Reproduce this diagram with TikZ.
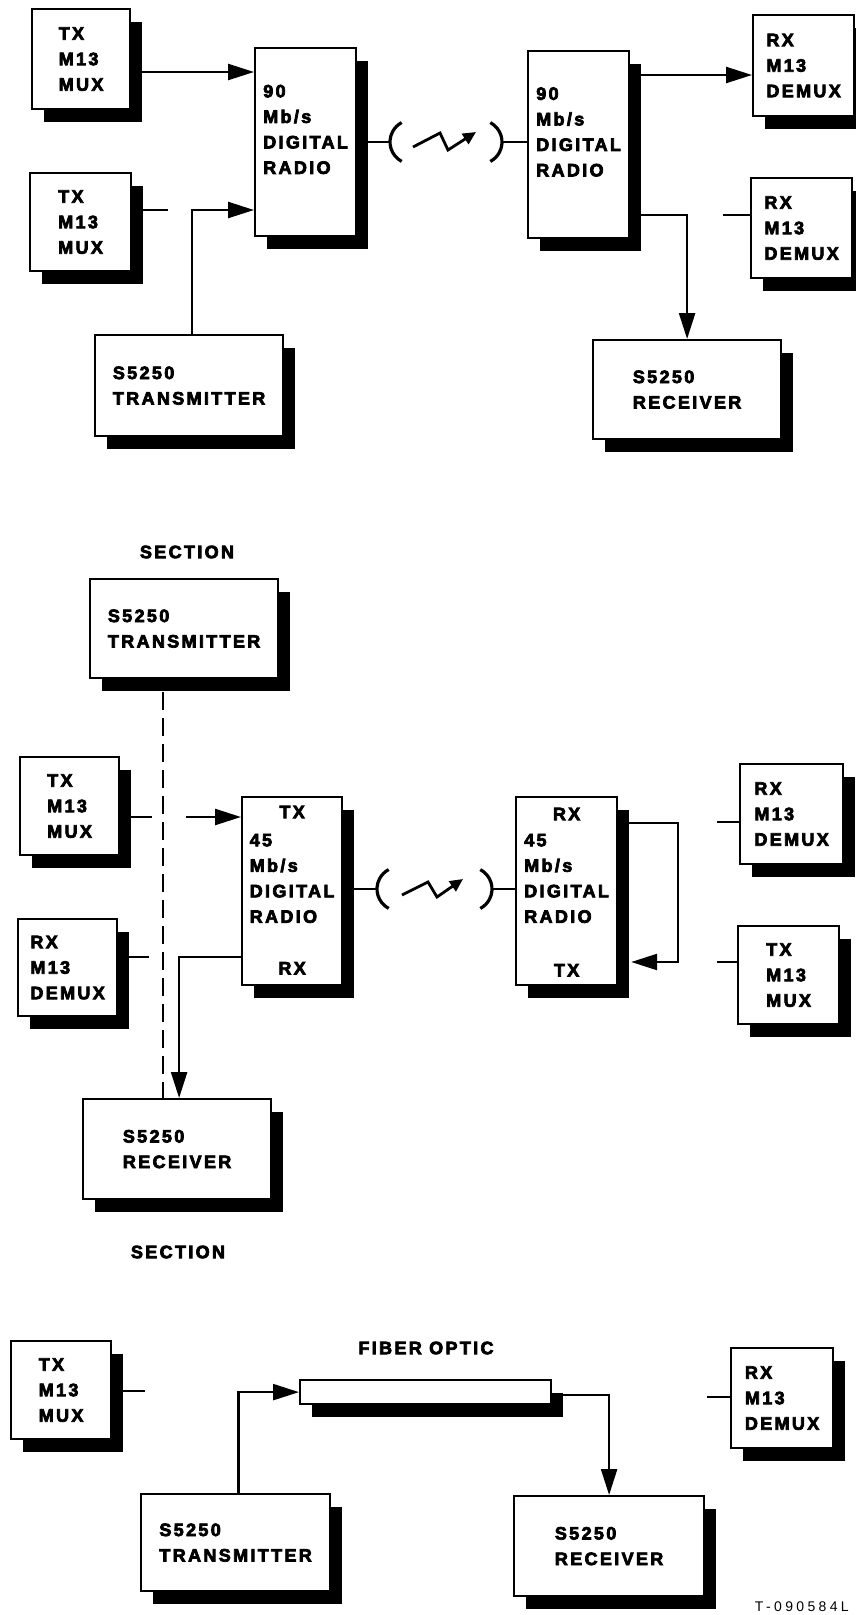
\documentclass[tikz,border=0pt]{standalone}
\usepackage{fontspec}
\setmainfont{Liberation Sans}
\newfontfamily\labfont{Liberation Sans}[UprightFont=* Bold, LetterSpace=13, FakeBold=4]
\newfontfamily\codefont{Liberation Sans}[LetterSpace=24]
\usetikzlibrary{arrows.meta,shadows,calc}
\begin{document}
\begin{tikzpicture}[x=1pt,y=-1pt,
  lw/.style={line width=2.4pt},
  txt/.style={font=\labfont\fontsize{18pt}{25.5pt}\selectfont, inner sep=0pt},
  box/.style={draw, line width=2.2pt, fill=white, txt, align=left, anchor=north west,
     drop shadow={shadow xshift=12pt, shadow yshift=-13pt, fill=black, opacity=1}},
  sz/.style 2 args={minimum width=#1pt, minimum height=#2pt},
  conn/.style={lw},
  arr/.style={lw, -{Triangle[length=26pt,width=16pt]}},
  ant/.style={line width=3.2pt},
  bolt/.style={line width=2.8pt, -{Triangle[length=13pt,width=12pt]}},
  dashedconn/.style={lw, dash pattern=on 18pt off 8pt},
  code/.style={font=\codefont\fontsize{14pt}{16pt}\selectfont, inner sep=0pt},
]
\useasboundingbox (0,0) rectangle (855,1615);

% ---------------- Section 1 ----------------
\node[box, sz={98}{100}] (m1) at (31,8) {TX\\M13\\MUX};
\node[box, sz={101}{98}] (m2) at (29,172) {TX\\M13\\MUX};
\node[box, sz={101}{188}] (r1) at (254,47) {90\\Mb/s\\DIGITAL\\RADIO\\\mbox{}};
\node[box, sz={188}{101}] (t1) at (94,334) {S5250\\TRANSMITTER};
\node[box, sz={101}{187}] (r2) at (527,50) {90\\Mb/s\\DIGITAL\\RADIO\\\mbox{}};
\node[box, sz={101}{101}] (d1) at (752,14) {RX\\M13\\DEMUX};
\node[box, sz={101}{100}] (d2) at (750,177) {RX\\M13\\DEMUX};
\node[box, sz={188}{99}] (rc1) at (592,339) {S5250\\RECEIVER};

\path ($(r1.north west)+(0,25)$) coordinate (r1a);
\draw[arr] (m1.east |- r1a) -- (r1a);
\draw[conn] ($(m2.north east)+(0,38)$) -- ++(36,0) coordinate (m2s);
\path ($(r1.north west)+(0,163)$) coordinate (r1b);
\draw[arr] ([xshift=3pt]t1.north) |- (r1b);

\coordinate (a1) at (390,142);
\draw[conn] (r1.east |- a1) -- (a1);
\draw[ant] ($(412,142)+(118:22)$) arc[start angle=118, end angle=242, radius=22];
\draw[bolt] (413,147) -- (440,133) -- (448,150) -- (476,132);
\draw[ant] ($(480,142)+(-62:22)$) arc[start angle=-62, end angle=62, radius=22];
\coordinate (a2) at (502,142);
\draw[conn] (a2) -- (r2.west |- a2);

\path ($(r2.north east)+(0,25)$) coordinate (r2a);
\draw[arr] (r2a) -- (d1.west |- r2a);
\path ($(r2.north east)+(0,165)$) coordinate (r2b);
\draw[arr] (r2b) -| (rc1.north);
\draw[conn] ($(d2.north west)+(0,38)$) -- ++(-27,0) coordinate (d2s);

% ---------------- Section 2 ----------------
\node[txt] (sec1) at (187,552) {SECTION};
\node[box, sz={188}{99}] (t2) at (89,578) {S5250\\TRANSMITTER};
\node[box, sz={99}{98}] (m3) at (19,756) {TX\\M13\\MUX};
\node[box, sz={100}{188}] (r3) at (241,796) {45\\Mb/s\\DIGITAL\\RADIO\\\mbox{}};
\node[txt] (r3tx) at ($(r3.north)+(0,16)$) {TX};
\node[txt] (r3rx) at ($(r3.south)+(0,-18)$) {RX};
\node[box, sz={99}{97}] (d3) at (17,918) {RX\\M13\\DEMUX};
\node[box, sz={188}{100}] (rc2) at (82,1098) {S5250\\RECEIVER};
\node[txt] (sec2) at (178,1252) {SECTION};
\node[box, sz={101}{188}] (r4) at (515,796) {45\\Mb/s\\DIGITAL\\RADIO\\\mbox{}};
\node[txt] (r4rx) at ($(r4.north)+(0,18)$) {RX};
\node[txt] (r4tx) at ($(r4.south)+(0,-16)$) {TX};
\node[box, sz={103}{100}] (d4) at (739,763) {RX\\M13\\DEMUX};
\node[box, sz={101}{98}] (m4) at (737,925) {TX\\M13\\MUX};

\path ($(m3.north east)+(0,61)$) coordinate (m3a);
\draw[conn] (m3a) -- ++(32,0) coordinate (m3g);
\path ($(r3.west |- m3a)+(-55,0)$) coordinate (r3g);
\draw[arr] (r3g) -- (r3.west |- m3a);
\draw[conn] ($(d3.north east)+(0,39)$) -- ++(31,0) coordinate (d3s);

\path ([xshift=-14pt]rc2.north) coordinate (rc2d);
\path ([yshift=-13pt]t2.south) coordinate (t2b);
\draw[dashedconn] (t2b -| rc2d) -- (rc2d);

\path ($(r3.north west)+(0,161)$) coordinate (r3b);
\draw[arr] (r3b) -| ([xshift=2pt]rc2.north);

\coordinate (a3) at (377,889);
\draw[conn] (r3.east |- a3) -- (a3);
\draw[ant] ($(399,889)+(118:22)$) arc[start angle=118, end angle=242, radius=22];
\draw[bolt] (402,895) -- (428,882) -- (437,897) -- (463,879);
\draw[ant] ($(470,889)+(-62:22)$) arc[start angle=-62, end angle=62, radius=22];
\coordinate (a4) at (492,889);
\draw[conn] (a4) -- (r4.west |- a4);

\path ($(r4.north east)+(0,27)$) coordinate (r4a);
\path ($(r4.north east)+(13,166)$) coordinate (r4b);
\draw[arr] (r4a) -- ++(60,0) |- (r4b);
\draw[conn] ($(d4.north west)+(0,59)$) -- ++(-22,0) coordinate (d4s);
\draw[conn] ($(m4.north west)+(0,37)$) -- ++(-20,0) coordinate (m4s);

% ---------------- Section 3 ----------------
\node[box, sz={100}{98}] (m5) at (10,1340) {TX\\M13\\MUX};
\draw[conn] ($(m5.north east)+(0,51)$) -- ++(33,0) coordinate (m5s);
\node[txt] (fol) at (426,1348) {FIBER OPTIC};
\node[box, sz={251}{24}] (f) at (299,1379) {};
\node[box, sz={189}{97}] (t3) at (140,1493) {S5250\\TRANSMITTER};
\node[box, sz={190}{100}] (rc3) at (513,1495) {S5250\\RECEIVER};
\node[box, sz={102}{100}] (d5) at (730,1347) {RX\\M13\\DEMUX};
\draw[conn] ($(d5.north west)+(0,50)$) -- ++(-23,0) coordinate (d5s);

\draw[arr] ([xshift=3pt]t3.north) |- (f.west);
\path ($(f.north east)+(0,16)$) coordinate (fa);
\draw[arr] (fa) -| (rc3.north);

\node[code, anchor=base east] (tag) at (849,1611) {T-090584L};
\end{tikzpicture}
\end{document}
